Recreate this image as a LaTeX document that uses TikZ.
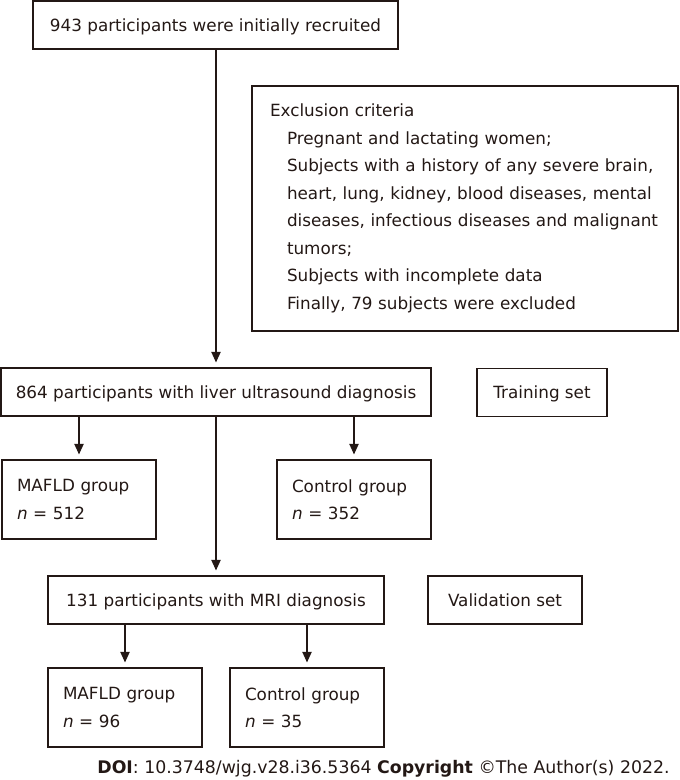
\documentclass[tikz,border=0pt]{standalone}
\usepackage{fontspec}
\setmainfont{DejaVu Sans}
\usepackage{xcolor}
\usetikzlibrary{arrows.meta}

\definecolor{ink}{HTML}{231815}
\newcommand{\ind}{\hspace*{12.75pt}}

\tikzset{
  box/.style={draw=ink, line width=1.3pt, inner sep=0pt, text=ink},
  single/.style={box, text height=9.4pt, text depth=0pt},
  sized/.style 2 args={minimum width=#1*0.75pt, minimum height=#2*0.75pt},
  grp/.style={box, align=left, text width=124*0.75pt, inner xsep=15*0.75pt,
    minimum height=79*0.75pt},
  flow/.style={draw=ink, line width=1pt, -{Triangle[length=8pt,width=7pt]},
    shorten >=3.5pt}
}

\begin{document}
\begin{tikzpicture}[x=0.75pt, y=-0.75pt, font=\fontsize{12.6}{20.6}\selectfont]
    \useasboundingbox (0,0) rectangle (680,780);

    % boxes
    \node[single, sized={365}{48}] (recruit) at (215.5,25) {943 participants were initially recruited};
    \node[box, align=left, text width=390*0.75pt, inner xsep=18*0.75pt,
      minimum height=245*0.75pt] (excl) at (465,208.5) {Exclusion criteria\\
      \ind Pregnant and lactating women;\\
      \ind Subjects with a history of any severe brain,\\
      \ind heart, lung, kidney, blood diseases, mental\\
      \ind diseases, infectious diseases and malignant\\
      \ind tumors;\\
      \ind Subjects with incomplete data\\
      \ind Finally, 79 subjects were excluded};
    \node[single, sized={430}{48}] (ultra) at (216,392) {864 participants with liver ultrasound diagnosis};
    \node[single, sized={130}{48}] (train) at (542,392.5) {Training set};
    \node[grp] (mafldA) at (79,499.5) {MAFLD group\\\textit{n} = 512};
    \node[grp] (ctrlA) at (354,499.5) {Control group\\\textit{n} = 352};
    \node[single, sized={336}{48}] (mri) at (216,600) {131 participants with MRI diagnosis};
    \node[single, sized={154}{48}] (valid) at (505,600) {Validation set};
    \node[grp] (mafldB) at (125,707.5) {MAFLD group\\\textit{n} = 96};
    \node[grp] (ctrlB) at (307,707.5) {Control group\\\textit{n} = 35};

    \node[anchor=base, text=ink, inner sep=0pt, font=\fontsize{13}{16}\selectfont]
      (doi) at (383.5,773)
      {\textbf{DOI}: 10.3748/wjg.v28.i36.5364 \textbf{Copyright} ©The Author(s) 2022.};

    % connectors
    \draw[flow] (recruit.south -| ultra.north) -- (ultra.north);
    \draw[flow] (mafldA.north |- ultra.south) -- (mafldA.north);
    \draw[flow] (ctrlA.north |- ultra.south) -- (ctrlA.north);
    \draw[flow] (ultra.south) -- (ultra.south |- mri.north);
    \draw[flow] (mafldB.north |- mri.south) -- (mafldB.north);
    \draw[flow] (ctrlB.north |- mri.south) -- (ctrlB.north);
\end{tikzpicture}
\end{document}
